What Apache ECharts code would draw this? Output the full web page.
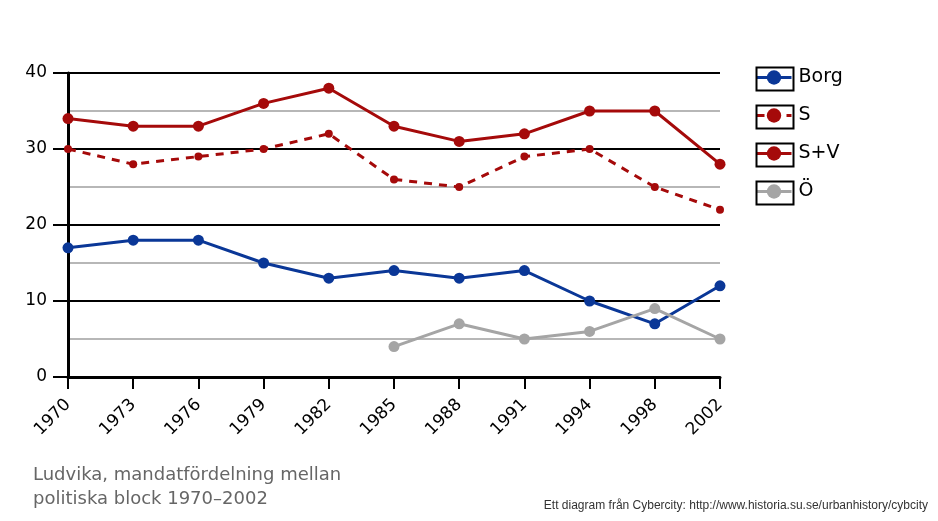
<!DOCTYPE html>
<html>
<head>
<meta charset="utf-8">
<script src="https://cdn.jsdelivr.net/npm/echarts@6/dist/echarts.min.js"></script>
<style>
  html, body { margin: 0; padding: 0; background: #fff; }
  #main { width: 938px; height: 521px; }
</style>
</head>
<body>
<div id="main"></div>
<script>
; (function () {
  var years = ['1970', '1973', '1976', '1979', '1982', '1985', '1988', '1991', '1994', '1998', '2002'];
  var borg = [17, 18, 18, 15, 13, 14, 13, 14, 10, 7, 12];
  var s = [30, 28, 29, 30, 32, 26, 25, 29, 30, 25, 22];
  var sv = [34, 33, 33, 36, 38, 33, 31, 32, 35, 35, 28];
  var oe = [null, null, null, null, null, 4, 7, 5, 6, 9, 5];
  var names = ['Borg', 'S', 'S+V', 'Ö'];

  var font = 'DejaVu Sans';
  var blue = '#0a3797';
  var red = '#a50a0a';
  var grey = '#a5a5a5';

  // one legend per item so each row sits in its own box
  var legends = [];
  var boxes = [];
  for (var i = 0; i < names.length; i++) {
    legends.push({
      orient: 'vertical',
      left: 755, top: 68 + i * 38,
      padding: 0,
      itemWidth: 35, itemHeight: 18,
      data: [names[i]],
      lineStyle: { width: 3 },
      textStyle: { fontFamily: font, fontSize: 19, color: '#000', padding: [0, 0, 0, 2] }
    });
    boxes.push({
      type: 'rect',
      left: 754, top: 65 + i * 38,
      shape: { width: 37, height: 23 },
      style: { fill: 'none', stroke: '#000', lineWidth: 2 },
      z: 100
    });
  }

  var chart = echarts.init(document.getElementById('main'));
  chart.setOption({
    animation: false,
    grid: { left: 68, right: 218, top: 73, bottom: 144 },
    legend: legends,
    xAxis: {
      type: 'category',
      data: years,
      boundaryGap: false,
      axisLine: { lineStyle: { color: '#000', width: 3 } },
      axisTick: { length: 12, lineStyle: { color: '#000', width: 2 } },
      axisLabel: {
        rotate: 45, margin: 25,
        fontFamily: font, fontSize: 17, color: '#000'
      }
    },
    yAxis: {
      type: 'value',
      min: 0, max: 40, interval: 10,
      axisLine: { show: true, lineStyle: { color: '#000', width: 3 } },
      axisTick: { show: true, inside: false, length: 15, lineStyle: { color: '#000', width: 2 } },
      axisLabel: { margin: 21, fontFamily: font, fontSize: 17, color: '#000' },
      splitLine: { lineStyle: { color: '#000', width: 2 } },
      minorTick: { show: false, splitNumber: 2 },
      minorSplitLine: { show: true, lineStyle: { color: '#a0a0a0', width: 1.5 } }
    },
    graphic: boxes.concat([
      {
        type: 'text', left: 33, top: 463,
        style: {
          text: 'Ludvika, mandatfördelning mellan\npolitiska block 1970–2002',
          font: '18px "DejaVu Sans"', fill: '#666', lineHeight: 24
        }
      },
      {
        type: 'text', right: 10, top: 500,
        style: {
          text: 'Ett diagram från Cybercity: http://www.historia.su.se/urbanhistory/cybcity',
          font: '12px "Liberation Sans"', fill: '#333'
        }
      }
    ]),
    series: [
      {
        name: 'Borg', type: 'line', data: borg,
        symbol: 'circle', symbolSize: 11,
        lineStyle: { color: blue, width: 3 },
        itemStyle: { color: blue }
      },
      {
        name: 'S', type: 'line', data: s,
        symbol: 'circle', symbolSize: 8,
        lineStyle: { color: red, width: 3, type: [8, 7] },
        itemStyle: { color: red }
      },
      {
        name: 'S+V', type: 'line', data: sv,
        symbol: 'circle', symbolSize: 11,
        lineStyle: { color: red, width: 3 },
        itemStyle: { color: red }
      },
      {
        name: 'Ö', type: 'line', data: oe,
        symbol: 'circle', symbolSize: 11,
        lineStyle: { color: grey, width: 3 },
        itemStyle: { color: grey }
      }
    ]
  });
})();
</script>
</body>
</html>
